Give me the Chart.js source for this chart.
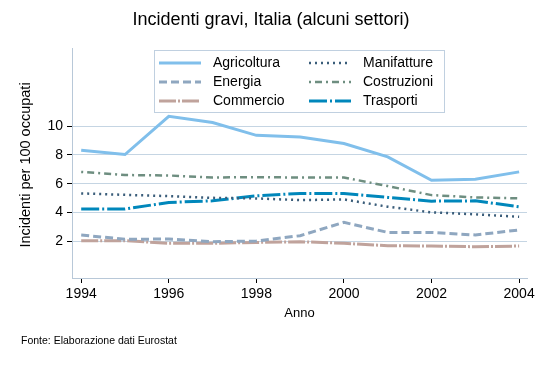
<!DOCTYPE html>
<html lang="it">
<head>
<meta charset="UTF-8">
<title>Incidenti gravi, Italia</title>
<script src="https://cdn.jsdelivr.net/npm/chart.js"></script>
<style>
    html, body { margin: 0; padding: 0; background: #fff; }
    #wrap { width: 542px; height: 366px; position: relative; }
</style>
</head>
<body>
<div id="wrap"><canvas id="chart"></canvas></div>
<script>
// data
var years = [1994, 1995, 1996, 1997, 1998, 1999, 2000, 2001, 2002, 2003, 2004];
var agricoltura = [8.33, 8.03, 10.7, 10.26, 9.37, 9.26, 8.8, 7.87, 6.24, 6.3, 6.82];
var energia     = [2.42, 2.12, 2.14, 1.95, 2.0, 2.37, 3.3, 2.6, 2.6, 2.42, 2.77];
var commercio   = [2.02, 2.02, 1.84, 1.84, 1.9, 1.95, 1.84, 1.67, 1.65, 1.6, 1.65];
var manifatture = [5.32, 5.22, 5.13, 5.01, 4.97, 4.85, 4.9, 4.39, 4.0, 3.86, 3.69];
var costruzioni = [6.82, 6.6, 6.57, 6.43, 6.45, 6.43, 6.43, 5.83, 5.2, 5.04, 4.97];
var trasporti   = [4.23, 4.23, 4.69, 4.8, 5.15, 5.32, 5.32, 5.04, 4.78, 4.8, 4.39];
var yTicks = [2, 4, 6, 8, 10];
var xTicks = [1994, 1996, 1998, 2000, 2002, 2004];

var FONT = "'Liberation Sans', Arial, sans-serif";

function pts(vals) {
    return vals.map(function (v, i) { return { x: years[i], y: v }; });
}

function series(label, vals, color, width, dash) {
    return {
        label: label,
        data: pts(vals),
        borderColor: color,
        backgroundColor: color,
        borderWidth: width,
        borderDash: dash,
        pointRadius: 0,
        tension: 0,
        fill: false
    };
}

var datasets = [
    series('Agricoltura', agricoltura, '#80bfeb', 3, []),
    series('Energia', energia, '#8fa7c0', 3, [8, 4]),
    series('Commercio', commercio, '#c0a39c', 3, [17, 2, 2, 2]),
    series('Manifatture', manifatture, '#3a5d7a', 2.5, [2, 4]),
    series('Costruzioni', costruzioni, '#6e8e80', 2.5, [2, 4, 7, 4]),
    series('Trasporti', trasporti, '#0087bb', 3, [18, 3, 2, 3])
];

// titles, legend box and footnote
var decor = {
    id: 'decor',
    afterDraw: function (chart) {
        var ctx = chart.ctx;
        var area = chart.chartArea;
        ctx.save();
        ctx.fillStyle = '#000';
        ctx.textBaseline = 'middle';

        ctx.font = '18px ' + FONT;
        ctx.textAlign = 'center';
        ctx.fillText('Incidenti gravi, Italia (alcuni settori)', 271, 20);

        ctx.font = '13px ' + FONT;
        ctx.fillText('Anno', (area.left + area.right) / 2, 313);

        ctx.save();
        ctx.translate(26, 165);
        ctx.rotate(-Math.PI / 2);
        ctx.font = '14.5px ' + FONT;
        ctx.fillText('Incidenti per 100 occupati', 0, 0);
        ctx.restore();

        ctx.font = '10.5px ' + FONT;
        ctx.textAlign = 'left';
        ctx.fillText('Fonte: Elaborazione dati Eurostat', 21, 341);

        // legend
        ctx.fillStyle = '#fff';
        ctx.fillRect(154.5, 50.5, 290, 62);
        ctx.strokeStyle = '#c0d0e0';
        ctx.lineWidth = 1;
        ctx.strokeRect(154.5, 50.5, 290, 62);
        chart.data.datasets.forEach(function (ds, k) {
            var col = k < 3 ? 0 : 1;
            var row = k % 3;
            var x0 = col === 0 ? 159 : 309;
            var y = 63 + row * 19;
            ctx.beginPath();
            ctx.strokeStyle = ds.borderColor;
            ctx.lineWidth = ds.borderWidth;
            ctx.setLineDash(ds.borderDash);
            ctx.moveTo(x0, y);
            ctx.lineTo(x0 + 42, y);
            ctx.stroke();
            ctx.setLineDash([]);
            ctx.fillStyle = '#000';
            ctx.font = '14px ' + FONT;
            ctx.fillText(ds.label, x0 + 54, y);
        });
        ctx.restore();
    }
};

new Chart(document.getElementById('chart'), {
    type: 'line',
    data: { datasets: datasets },
    options: {
        responsive: true,
        maintainAspectRatio: false,
        animation: false,
        layout: { padding: { top: 48, right: 15, bottom: 0, left: 0 } },
        plugins: {
            legend: { display: false },
            title: { display: false },
            tooltip: { enabled: false }
        },
        scales: {
            x: {
                type: 'linear',
                min: 1993.79,
                max: 2004.18,
                afterBuildTicks: function (axis) {
                    axis.ticks = xTicks.map(function (v) { return { value: v }; });
                },
                afterFit: function (axis) { axis.height = 88; },
                grid: { drawOnChartArea: false, drawTicks: true, tickLength: 5, tickColor: '#000' },
                border: { color: '#b8c8d8', width: 1 },
                ticks: {
                    color: '#000',
                    padding: 3,
                    maxRotation: 0,
                    font: { family: FONT, size: 14 },
                    callback: function (v) { return String(v); }
                }
            },
            y: {
                min: -0.58,
                max: 15.46,
                afterBuildTicks: function (axis) {
                    axis.ticks = yTicks.map(function (v) { return { value: v }; });
                },
                afterFit: function (axis) { axis.width = 72; },
                grid: { color: '#c5d5e3', lineWidth: 1, tickLength: 5, tickColor: '#000' },
                border: { color: '#b8c8d8', width: 1 },
                ticks: {
                    color: '#000',
                    padding: 4,
                    font: { family: FONT, size: 14 }
                }
            }
        }
    },
    plugins: [decor]
});
</script>
</body>
</html>
